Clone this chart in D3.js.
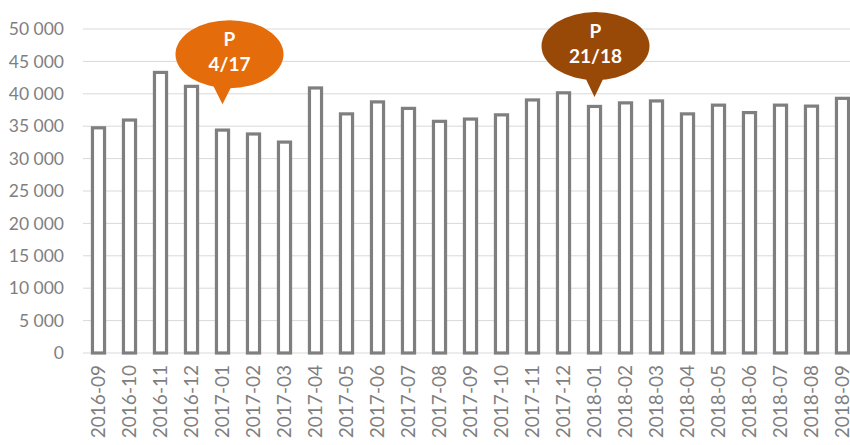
<!DOCTYPE html>
<html><head><meta charset="utf-8">
<script src="https://cdn.jsdelivr.net/npm/d3@7"></script>
<style>body{margin:0;background:#fff;}svg{display:block;}</style>
</head><body>
<svg id="c" width="850" height="445"></svg>
<script>
const categories = ["2016-09","2016-10","2016-11","2016-12","2017-01","2017-02","2017-03","2017-04","2017-05","2017-06","2017-07","2017-08","2017-09","2017-10","2017-11","2017-12","2018-01","2018-02","2018-03","2018-04","2018-05","2018-06","2018-07","2018-08","2018-09"];
const values = [34750,35950,43300,41150,34400,33800,32550,40900,36900,38750,37750,35750,36100,36750,39050,40150,38050,38600,38900,36900,38250,37100,38250,38100,39300];
const yTicks = [0,5000,10000,15000,20000,25000,30000,35000,40000,45000,50000];
const annotations = [
  {category:"2017-01", tipValue:38400, lines:["P","4/17"], color:"#E46C0A", dx:7, dyCenter:50},
  {category:"2018-01", tipValue:39500, lines:["P","21/18"], color:"#984807", dx:1, dyCenter:51}
];

(function(){
const svg = d3.select("#c");
const pLeft = 83, pRight = 858, pTop = 29, pBottom = 353;
const x = d3.scaleBand().domain(categories).range([pLeft, pRight]).paddingInner(0.61).paddingOuter(0.305);
const y = d3.scaleLinear().domain([0,50000]).range([pBottom, pTop]);
const fmt = v => d3.format(",")(v).replace(/,/g, " ");

svg.append("g").selectAll("line").data(yTicks).join("line")
  .attr("x1", pLeft).attr("x2", 850)
  .attr("y1", d => y(d)).attr("y2", d => y(d))
  .attr("stroke", "#d9d9d9").attr("stroke-width", 1);

const yAxis = d3.axisLeft(y).tickValues(yTicks).tickFormat(fmt).tickSize(0).tickPadding(0);
const gy = svg.append("g").attr("transform", `translate(64,0)`).call(yAxis);
gy.select(".domain").remove();
gy.selectAll("text").attr("font-family", "Lato, 'Open Sans', sans-serif").attr("font-size", 17.5).attr("fill", "#7f7f7f");

svg.append("g").selectAll("rect").data(values).join("rect")
  .attr("x", (d,i) => x(categories[i]))
  .attr("y", d => y(d))
  .attr("width", x.bandwidth())
  .attr("height", d => pBottom - y(d))
  .attr("fill", "#ffffff").attr("stroke", "#7f7f7f").attr("stroke-width", 3.2);

const xAxis = d3.axisBottom(x).tickSize(0).tickPadding(0);
const gx = svg.append("g").attr("transform", `translate(0,${pBottom})`).call(xAxis);
gx.select(".domain").remove();
gx.selectAll("text")
  .attr("font-family", "Lato, 'Open Sans', sans-serif").attr("font-size", 19).attr("fill", "#7f7f7f")
  .attr("text-anchor", "end").attr("dy", "0.35em")
  .attr("transform", "translate(0,12) rotate(-90)")
  .attr("x", 0).attr("y", 0);

annotations.forEach(a => {
  const tx = x(a.category) + x.bandwidth()/2;
  const ty = y(a.tipValue);
  const cx = tx + a.dx, cy = ty - a.dyCenter;
  const g = svg.append("g");
  g.append("ellipse").attr("cx", cx).attr("cy", cy).attr("rx", 54).attr("ry", 34).attr("fill", a.color);
  g.append("path").attr("d", `M${tx-11},${cy+28} L${tx},${ty} L${tx+11},${cy+28} Z`).attr("fill", a.color);
  a.lines.forEach((t, i) => {
    g.append("text").attr("x", cx).attr("y", cy - 8 + i*25)
      .attr("text-anchor", "middle")
      .attr("font-family", "Lato, 'Open Sans', sans-serif").attr("font-weight", "bold")
      .attr("font-size", 19).attr("fill", "#ffffff").text(t);
  });
});
})();
</script>
</body></html>
